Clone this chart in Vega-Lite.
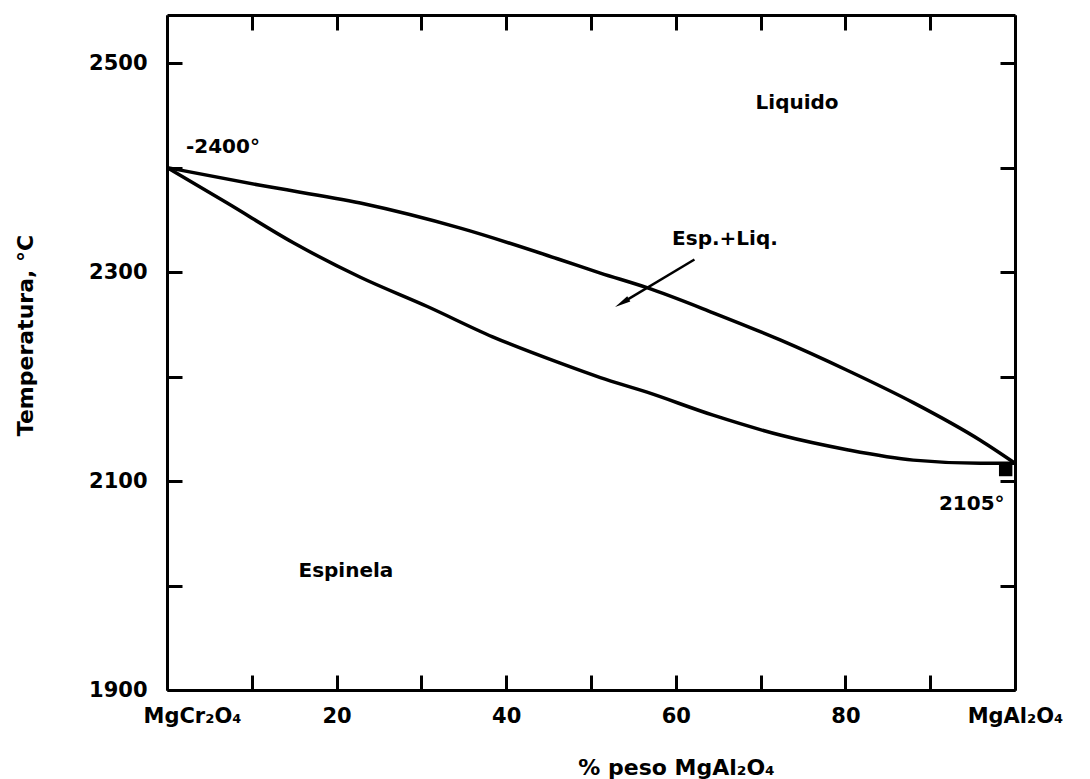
{
  "$schema": "https://vega.github.io/schema/vega-lite/v6.json",
  "width": 848,
  "height": 675,
  "autosize": {"type": "none"},
  "padding": {"left": 167, "top": 15, "right": 75, "bottom": 89},
  "background": "white",
  "config": {
    "view": {"stroke": null},
    "font": "DejaVu Sans",
    "axis": {
      "domainColor": "black",
      "domainWidth": 3,
      "tickColor": "black",
      "tickWidth": 3,
      "tickSize": -15,
      "grid": false,
      "labelColor": "black",
      "labelFont": "DejaVu Sans",
      "labelFontWeight": "bold",
      "labelFontSize": 21,
      "titleColor": "black",
      "titleFont": "DejaVu Sans",
      "titleFontWeight": "bold",
      "titleFontSize": 22
    }
  },
  "datasets": {
    "curves": [
      {"curve": "liquidus", "pct": 0, "temp": 2400},
      {"curve": "liquidus", "pct": 11, "temp": 2383},
      {"curve": "liquidus", "pct": 22.8, "temp": 2366},
      {"curve": "liquidus", "pct": 34.6, "temp": 2342},
      {"curve": "liquidus", "pct": 46.3, "temp": 2312},
      {"curve": "liquidus", "pct": 51.1, "temp": 2299},
      {"curve": "liquidus", "pct": 56.6, "temp": 2285},
      {"curve": "liquidus", "pct": 64.4, "temp": 2261},
      {"curve": "liquidus", "pct": 72.3, "temp": 2235},
      {"curve": "liquidus", "pct": 80.2, "temp": 2206},
      {"curve": "liquidus", "pct": 88, "temp": 2175},
      {"curve": "liquidus", "pct": 95.9, "temp": 2139},
      {"curve": "liquidus", "pct": 100, "temp": 2117},
      {"curve": "solidus", "pct": 0, "temp": 2400},
      {"curve": "solidus", "pct": 7.1, "temp": 2366},
      {"curve": "solidus", "pct": 14.9, "temp": 2328},
      {"curve": "solidus", "pct": 22.8, "temp": 2295},
      {"curve": "solidus", "pct": 30.7, "temp": 2267},
      {"curve": "solidus", "pct": 38.4, "temp": 2238},
      {"curve": "solidus", "pct": 46.3, "temp": 2213},
      {"curve": "solidus", "pct": 51.1, "temp": 2199},
      {"curve": "solidus", "pct": 56.6, "temp": 2185},
      {"curve": "solidus", "pct": 64.4, "temp": 2163},
      {"curve": "solidus", "pct": 72.3, "temp": 2144},
      {"curve": "solidus", "pct": 80.2, "temp": 2130},
      {"curve": "solidus", "pct": 88, "temp": 2120},
      {"curve": "solidus", "pct": 95.9, "temp": 2117},
      {"curve": "solidus", "pct": 100, "temp": 2117}
    ],
    "labels": [
      {"text": "Liquido", "pct": 74.3, "temp": 2462},
      {"text": "-2400°", "pct": 6.6, "temp": 2420},
      {"text": "2105°", "pct": 94.9, "temp": 2078},
      {"text": "Espinela", "pct": 21.1, "temp": 2014},
      {"text": "Esp.+Liq.", "pct": 65.8, "temp": 2332}
    ],
    "arrow": [
      {"pct": 62.2, "temp": 2312, "pct2": 53.85, "temp2": 2271.4}
    ],
    "arrowhead": [
      {"pct": 53.85, "temp": 2271.4}
    ],
    "endmark": [
      {"pct": 98.9, "temp": 2111}
    ]
  },
  "layer": [
    {
      "data": {"name": "curves"},
      "mark": {"type": "line", "color": "black", "strokeWidth": 3.5, "interpolate": "monotone"},
      "encoding": {
        "x": {
          "field": "pct", "type": "quantitative",
          "scale": {"domain": [0, 100], "nice": false, "zero": false},
          "axis": {
            "orient": "bottom",
            "values": [0, 10, 20, 30, 40, 50, 60, 70, 80, 90, 100],
            "labelExpr": "datum.value == 0 ? 'MgCr₂O₄' : datum.value == 100 ? 'MgAl₂O₄' : (datum.value % 20 == 0 ? datum.label : '')",
            "labelPadding": 41,
            "labelBaseline": "middle",
            "labelFlush": false,
            "labelOffset": {"condition": {"test": "datum.value == 0", "value": 25}, "value": 0},
            "title": "% peso MgAl₂O₄",
            "titleX": 509,
            "titleY": 77,
            "titleBaseline": "middle",
            "titleAnchor": "middle"
          }
        },
        "y": {
          "field": "temp", "type": "quantitative",
          "scale": {"domain": [1900, 2546], "nice": false, "zero": false},
          "axis": {
            "orient": "left",
            "values": [1900, 2000, 2100, 2200, 2300, 2400, 2500],
            "labelExpr": "datum.value % 200 == 100 ? datum.label : ''",
            "format": "d",
            "labelPadding": 35,
            "title": "Temperatura, °C",
            "titleX": -142,
            "titleY": 320,
            "titleBaseline": "middle",
            "titleAnchor": "middle"
          }
        },
        "detail": {"field": "curve"}
      }
    },
    {
      "data": {"name": "labels"},
      "mark": {"type": "text", "font": "DejaVu Sans", "fontWeight": "bold", "fontSize": 20, "color": "black", "align": "center", "baseline": "middle"},
      "encoding": {
        "x": {"field": "pct", "type": "quantitative", "axis": {"orient": "top", "values": [0, 10, 20, 30, 40, 50, 60, 70, 80, 90, 100], "labels": false, "title": null}},
        "y": {"field": "temp", "type": "quantitative", "axis": {"orient": "right", "values": [1900, 2000, 2100, 2200, 2300, 2400, 2500], "labels": false, "title": null}},
        "text": {"field": "text"}
      }
    },
    {
      "data": {"name": "arrow"},
      "mark": {"type": "rule", "color": "black", "strokeWidth": 2.5},
      "encoding": {
        "x": {"field": "pct", "type": "quantitative", "axis": null},
        "y": {"field": "temp", "type": "quantitative", "axis": null},
        "x2": {"field": "pct2"},
        "y2": {"field": "temp2"}
      }
    },
    {
      "data": {"name": "arrowhead"},
      "mark": {"type": "point", "shape": "M -0.857 0.514 L 0.668 -0.051 L 0.360 -0.565 Z", "filled": true, "color": "black", "size": 400, "opacity": 1},
      "encoding": {
        "x": {"field": "pct", "type": "quantitative", "axis": null},
        "y": {"field": "temp", "type": "quantitative", "axis": null}
      }
    },
    {
      "data": {"name": "endmark"},
      "mark": {"type": "square", "filled": true, "color": "black", "size": 180, "opacity": 1},
      "encoding": {
        "x": {"field": "pct", "type": "quantitative", "axis": null},
        "y": {"field": "temp", "type": "quantitative", "axis": null}
      }
    }
  ],
  "resolve": {"axis": {"x": "independent", "y": "independent"}}
}
